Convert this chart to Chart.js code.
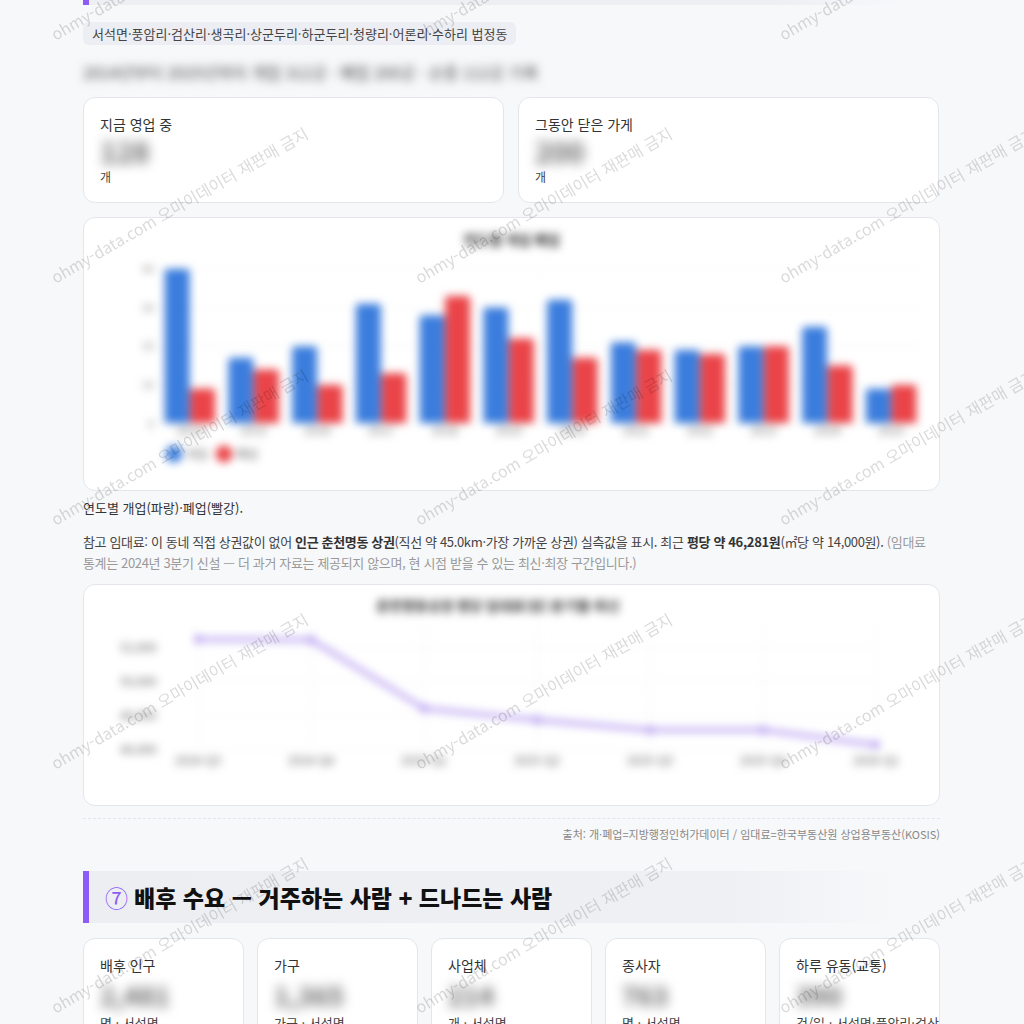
<!DOCTYPE html>
<html lang="ko">
<head>
<meta charset="utf-8">
<title>개·폐업 추이와 참고 임대료</title>
<script src="https://cdn.jsdelivr.net/npm/chart.js"></script>
<style>
    body {
        margin: 0;
        background: #f7f8fa;
        font-family: "Noto Sans CJK KR", "Noto Sans", sans-serif;
        color: #333;
        overflow: hidden;
    }
    .wrap { position: relative; width: 857px; margin-left: 83px; }
    .prev-head {
        height: 5px; width: 811px;
        border-left: 6px solid #8b5cf6;
        background: linear-gradient(90deg, #eeeff3 0%, #eeeff3 85%, rgba(238,239,243,0) 100%);
    }
    .tag {
        display: inline-block; margin-top: 17px;
        background: #eceef4; border-radius: 6px;
        padding: 3px 9px; font-size: 13px; line-height: 17px; color: #444;
    }
    .blur-line {
        margin-top: 14px; height: 26px; line-height: 26px;
        font-size: 16px; color: #444; filter: blur(5px);
    }
    .kpi-row { display: flex; gap: 14px; margin-top: 12px; }
    .card {
        background: #fff; border: 1px solid #e4e6eb; border-radius: 12px;
        box-sizing: border-box;
    }
    .kpi { width: 421px; height: 106px; padding: 16px 16px 0 16px; }
    .kpi .label { font-size: 14px; line-height: 20px; color: #333; }
    .kpi .num { font-size: 28px; font-weight: bold; line-height: 34px; color: #666; filter: blur(6px); }
    .kpi .unit { font-size: 12px; line-height: 18px; color: #444; }
    .chart-card { margin-top: 14px; padding: 10px 16px; }
    .chart-card canvas { filter: blur(4px); }
    .caption { margin-top: 8px; font-size: 13px; line-height: 18px; color: #333; }
    .note { margin-top: 14px; font-size: 13px; line-height: 21px; color: #444; letter-spacing: -0.35px; }
    .note b { color: #333; }
    .note .muted { color: #999; }
    .source {
        margin-top: 12px; border-top: 1px dashed #e3e5ea;
        padding-top: 8px; text-align: right;
        font-size: 11px; line-height: 14px; color: #888;
    }
    .section-head {
        margin-top: 30px; height: 52px; width: 811px;
        border-left: 6px solid #8b5cf6;
        background: linear-gradient(90deg, #eceef2 0%, #eef0f3 80%, rgba(238,240,243,0) 100%);
        box-sizing: border-box; padding-left: 16px;
        font-size: 23px; font-weight: 900; line-height: 52px; color: #111;
    }
    .section-head .no { color: #8b5cf6; font-weight: normal; margin-right: 6px; }
    .demand-row { display: flex; gap: 13px; margin-top: 15px; }
    .demand { width: 161px; height: 110px; padding: 16px 16px 0 16px; overflow: hidden; }
    .demand .label { font-size: 14px; line-height: 20px; color: #333; }
    .demand .num { font-size: 26px; font-weight: bold; line-height: 36px; color: #666; filter: blur(6px); margin-top: 2px; }
    .demand .sub { font-size: 13px; line-height: 20px; color: #444; white-space: nowrap; }
    .wm-layer { position: absolute; left: 0; top: 0; width: 1024px; height: 1024px; overflow: hidden; pointer-events: none; z-index: 10; }
    .wm {
        position: absolute; white-space: nowrap; font-size: 16px; line-height: 20px;
        color: rgba(0,0,0,0.15); transform-origin: 0 50%; transform: rotate(-30deg);
    }
</style>
</head>
<body>
<div class="wrap">
    <div class="prev-head"></div>
    <div class="tag">서석면·풍암리·검산리·생곡리·상군두리·하군두리·청량리·어론리·수하리 법정동</div>
    <div class="blur-line">2014년부터 2025년까지 개업 312곳 · 폐업 200곳 · 순증 112곳 기록</div>

    <div class="kpi-row">
        <div class="card kpi">
            <div class="label">지금 영업 중</div>
            <div class="num">128</div>
            <div class="unit">개</div>
        </div>
        <div class="card kpi">
            <div class="label">그동안 닫은 가게</div>
            <div class="num">200</div>
            <div class="unit">개</div>
        </div>
    </div>

    <div class="card chart-card" style="height:274px;">
        <div style="position:relative;height:252px;"><canvas id="bizChart"></canvas></div>
    </div>

    <div class="caption">연도별 개업(파랑)·폐업(빨강).</div>
    <div class="note">참고 임대료: 이 동네 직접 상권값이 없어 <b>인근 춘천명동 상권</b>(직선 약 45.0km·가장 가까운 상권) 실측값을 표시. 최근 <b>평당 약 46,281원</b>(㎡당 약 14,000원). <span class="muted">(임대료 통계는 2024년 3분기 신설 — 더 과거 자료는 제공되지 않으며, 현 시점 받을 수 있는 최신·최장 구간입니다.)</span></div>

    <div class="card chart-card" style="height:222px;margin-top:11px;">
        <div style="position:relative;height:200px;"><canvas id="rentChart"></canvas></div>
    </div>

    <div class="source">출처: 개·폐업=지방행정인허가데이터 / 임대료=한국부동산원 상업용부동산(KOSIS)</div>

    <div class="section-head"><span class="no">⑦</span>배후 수요 — 거주하는 사람 + 드나드는 사람</div>

    <div class="demand-row">
        <div class="card demand"><div class="label">배후 인구</div><div class="num">2,481</div><div class="sub">명 · 서석면</div></div>
        <div class="card demand"><div class="label">가구</div><div class="num">1,365</div><div class="sub">가구 · 서석면</div></div>
        <div class="card demand"><div class="label">사업체</div><div class="num">214</div><div class="sub">개 · 서석면</div></div>
        <div class="card demand"><div class="label">종사자</div><div class="num">763</div><div class="sub">명 · 서석면</div></div>
        <div class="card demand"><div class="label">하루 유동(교통)</div><div class="num">390</div><div class="sub">건/일 · 서석면·풍암리·검산리·생곡리·상군두리·하군두리</div></div>
    </div>
</div>

<div class="wm-layer" id="wmLayer"></div>

<script>
    // 연도별 개업/폐업 건수
    const years = ['2014', '2015', '2016', '2017', '2018', '2019', '2020', '2021', '2022', '2023', '2024', '2025'];
    const openCounts = [40, 17, 20, 31, 28, 30, 32, 21, 19, 20, 25, 9];
    const closeCounts = [9, 14, 10, 13, 33, 22, 17, 19, 18, 20, 15, 10];

    // 인근 춘천명동 상권 평당 임대료 (분기)
    const rentQuarters = ['2024-Q3', '2024-Q4', '2025-Q1', '2025-Q2', '2025-Q3', '2025-Q4', '2026-Q1'];
    const rentPerPyeong = [52500, 52480, 48430, 47740, 47160, 47160, 46281];

    const barTicks = [0, 10, 20, 30, 40];
    const rentTicks = [46000, 48000, 50000, 52000];

    Chart.defaults.font.family = '"Noto Sans CJK KR", "Noto Sans", sans-serif';
    Chart.defaults.animation = false;

    new Chart(document.getElementById('bizChart'), {
        type: 'bar',
        data: {
            labels: years,
            datasets: [
                { label: '개업', data: openCounts, backgroundColor: '#3b7ddd', borderRadius: 3 },
                { label: '폐업', data: closeCounts, backgroundColor: '#ea4448', borderRadius: 3 }
            ]
        },
        options: {
            responsive: true,
            maintainAspectRatio: false,
            layout: { padding: { bottom: 10 } },
            datasets: { bar: { categoryPercentage: 0.8, barPercentage: 0.98 } },
            plugins: {
                title: {
                    display: true,
                    text: '연도별 개업 폐업',
                    color: '#333',
                    font: { size: 14, weight: 'bold' },
                    padding: { top: 3, bottom: 21 }
                },
                legend: {
                    position: 'bottom',
                    align: 'start',
                    fullSize: false,
                    labels: { usePointStyle: true, pointStyle: 'circle', padding: 10, color: '#666', font: { size: 12 } }
                },
                tooltip: { enabled: false }
            },
            scales: {
                x: {
                    grid: { display: false, drawTicks: false },
                    border: { display: false },
                    ticks: { color: '#777', font: { size: 12 }, padding: 0 }
                },
                y: {
                    min: barTicks[0],
                    max: barTicks[barTicks.length - 1],
                    afterBuildTicks: s => { s.ticks = barTicks.map(v => ({ value: v })); },
                    grid: { color: '#f0f1f3', drawTicks: false },
                    border: { display: false },
                    ticks: { color: '#888', font: { size: 11 }, padding: 4 },
                    afterFit: s => { s.width = 58; }
                }
            }
        }
    });

    new Chart(document.getElementById('rentChart'), {
        type: 'line',
        data: {
            labels: rentQuarters,
            datasets: [{
                label: '평당 임대료',
                data: rentPerPyeong,
                borderColor: '#b39bf0',
                backgroundColor: '#b39bf0',
                borderWidth: 4,
                pointRadius: 2,
                tension: 0
            }]
        },
        options: {
            responsive: true,
            maintainAspectRatio: false,
            layout: { padding: { left: 20, right: 47, bottom: 23 } },
            plugins: {
                legend: { display: false },
                title: {
                    display: true,
                    text: '춘천명동상권 평당 임대료(원) 분기별·최신',
                    color: '#333',
                    font: { size: 14, weight: 'bold' },
                    padding: { top: 2, bottom: 12 }
                },
                tooltip: { enabled: false }
            },
            scales: {
                x: {
                    grid: { color: '#f3f4f6', drawTicks: false },
                    border: { display: false },
                    ticks: { color: '#666', font: { size: 12 }, padding: 4 }
                },
                y: {
                    min: 46000,
                    max: 53300,
                    afterBuildTicks: s => { s.ticks = rentTicks.map(v => ({ value: v })); },
                    grid: { color: '#f3f4f6', drawTicks: false },
                    border: { display: false },
                    ticks: { color: '#666', font: { size: 12 }, padding: 3, crossAlign: 'far', callback: v => v.toLocaleString('ko-KR') },
                    afterFit: s => { s.width = 78; }
                }
            }
        }
    });

    // 워터마크
    const wmLayer = document.getElementById('wmLayer');
    const wmCols = [52, 416, 780];
    const wmRows = [35, 278, 520, 764, 1008];
    wmRows.forEach(y => {
        wmCols.forEach(x => {
            const s = document.createElement('div');
            s.className = 'wm';
            s.textContent = 'ohmy-data.com 오마이데이터 재판매 금지';
            s.style.left = x + 'px';
            s.style.top = (y - 10) + 'px';
            wmLayer.appendChild(s);
        });
    });
</script>
</body>
</html>
